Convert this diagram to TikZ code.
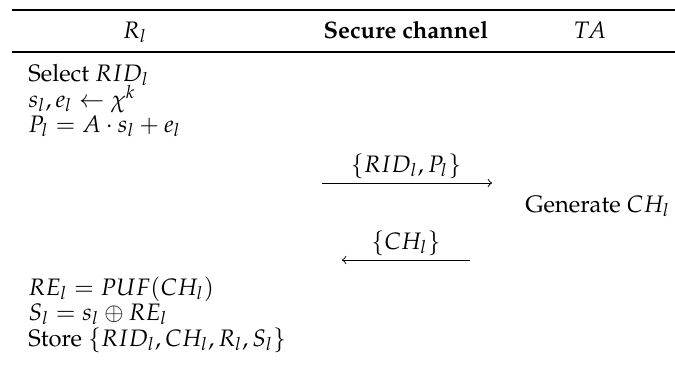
\documentclass[tikz,border=0pt]{standalone}
\usepackage[T1]{fontenc}
\usepackage{mathpazo}
\usepackage{amsmath}

\begin{document}
\begin{tikzpicture}[x=0.42pt, y=-0.42pt,
  head/.style={anchor=base, inner sep=0pt},
  cell/.style={anchor=base west, inner sep=0pt},
  msg/.style={->, line width=0.4pt}]
  \useasboundingbox (0,0) rectangle (675,365);
  % table rules
  \draw[line width=0.8pt] (12,10) -- (675,10);
  \draw[line width=0.5pt] (12,52) -- (675,52);
  % header
  \node[head] (rl) at (135,38) {$R_l$};
  \node[head] (chan) at (406,38) {\textbf{Secure channel}};
  \node[head] (ta) at (590,38) {$TA$};
  % R_l side, registration request
  \node[cell] (sel) at (28,81) {Select $RID_l$};
  \node[cell] (samp) at (28,107) {$s_l, e_l \leftarrow \chi^k$};
  \node[cell] (pub) at (28,132) {$P_l = A \cdot s_l + e_l$};
  \coordinate (req0) at (322,183); \coordinate (req1) at (492,183);
  \draw[msg] (req0) -- (req1);
  \node[head] (reqmsg) at (406,172) {$\{RID_l, P_l\}$};
  % TA side
  \node[cell] (gen) at (525,212) {Generate $CH_l$};
  \coordinate (rep0) at (470,260); \coordinate (rep1) at (342,260);
  \draw[msg] (rep0) -- (rep1);
  \node[head] (repmsg) at (406,249) {$\{CH_l\}$};
  % R_l side, storage
  \node[cell] (resp) at (28,295) {$RE_l = PUF(CH_l)$};
  \node[cell] (mask) at (28,320) {$S_l = s_l \oplus RE_l$};
  \node[cell] (store) at (28,346) {Store $\{RID_l, CH_l, R_l, S_l\}$};
\end{tikzpicture}
\end{document}
